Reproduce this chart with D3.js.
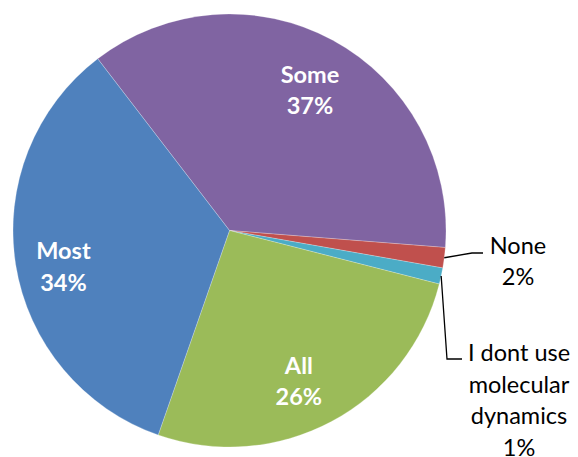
<!DOCTYPE html>
<html>
<head>
<meta charset="utf-8">
<script src="https://cdn.jsdelivr.net/npm/d3@7"></script>
<style>
  html, body { margin: 0; padding: 0; background: #fff; }
  svg { display: block; }
  text { font-family: Lato, "Open Sans", sans-serif; }
</style>
</head>
<body>
<svg id="chart" width="578" height="457"></svg>
<script>
// ---- data ----
const categories = ["Some", "None", "I dont use molecular dynamics", "All", "Most"];
const values = [121, 5, 4, 87, 113];
const colors = ["#8064A2", "#C0504D", "#4BACC6", "#9BBB59", "#4F81BD"];
const labelLines = [["Some"], ["None"], ["I dont use", "molecular", "dynamics"], ["All"], ["Most"]];
const insideLabel = [true, false, false, true, true];

// ---- layout ----
const W = 578, H = 457;
const cx = 229.5, cy = 230.5, R = 216.5;
const startDeg = -37.5;
const fontSize = 23.5, lineH = 31.5;

const svg = d3.select("#chart");
const g = svg.append("g").attr("transform", `translate(${cx},${cy})`);

const total = d3.sum(values);
const data = categories.map((c, i) => ({ cat: c, value: values[i], color: colors[i], lines: labelLines[i], inside: insideLabel[i], pct: Math.round(values[i] / total * 100) + "%" }));

const pie = d3.pie().value(d => d.value).sort(null)
  .startAngle(startDeg * Math.PI / 180)
  .endAngle(startDeg * Math.PI / 180 + 2 * Math.PI);
const arcs = pie(data);
const arc = d3.arc().innerRadius(0).outerRadius(R);

g.selectAll("path.slice").data(arcs).join("path")
  .attr("class", "slice")
  .attr("d", arc)
  .attr("fill", d => d.data.color)
  .attr("stroke", "#fff").attr("stroke-width", 0.4).attr("stroke-opacity", 0.6);

// inside labels: placed at a fraction of the radius with small nudges (Excel-like)
const insideNudge = { "Some": [2, 4.5], "Most": [-3.6, 10], "All": [-8.5, 6] };
const labelArc = d3.arc().innerRadius(R * 0.76).outerRadius(R * 0.76);
arcs.filter(a => a.data.inside).forEach(a => {
  const [x, y] = labelArc.centroid(a);
  const n = insideNudge[a.data.cat] || [0, 0];
  const t = g.append("text")
    .attr("text-anchor", "middle")
    .attr("fill", "#fff")
    .attr("font-weight", "bold")
    .attr("font-size", fontSize);
  const lines = a.data.lines.concat([a.data.pct]);
  const y0 = y + n[1] - (lines.length - 1) * lineH / 2 + fontSize * 0.35;
  lines.forEach((l, i) => t.append("tspan").attr("x", x + n[0]).attr("y", y0 + i * lineH).text(l));
});

// outside labels with leader lines
const outside = {
  "None": { elbow: [472, 253], end: [483, 253], textX: 518, firstBase: 253.5 },
  "I dont use molecular dynamics": { elbow: [447, 359], end: [462, 359], textX: 519, firstBase: 361 }
};
arcs.filter(a => !a.data.inside).forEach(a => {
  const o = outside[a.data.cat];
  const mid = (a.startAngle + a.endAngle) / 2;
  const p0 = [cx + R * Math.sin(mid), cy - R * Math.cos(mid)];
  svg.append("polyline")
    .attr("points", [p0, o.elbow, o.end].map(p => p.join(",")).join(" "))
    .attr("fill", "none").attr("stroke", "#000").attr("stroke-width", 1.3);
  const t = svg.append("text").attr("text-anchor", "middle").attr("fill", "#000").attr("font-size", fontSize);
  const lines = a.data.lines.concat([a.data.pct]);
  lines.forEach((l, i) => t.append("tspan").attr("x", o.textX).attr("y", o.firstBase + i * lineH).text(l));
});
</script>
</body>
</html>
